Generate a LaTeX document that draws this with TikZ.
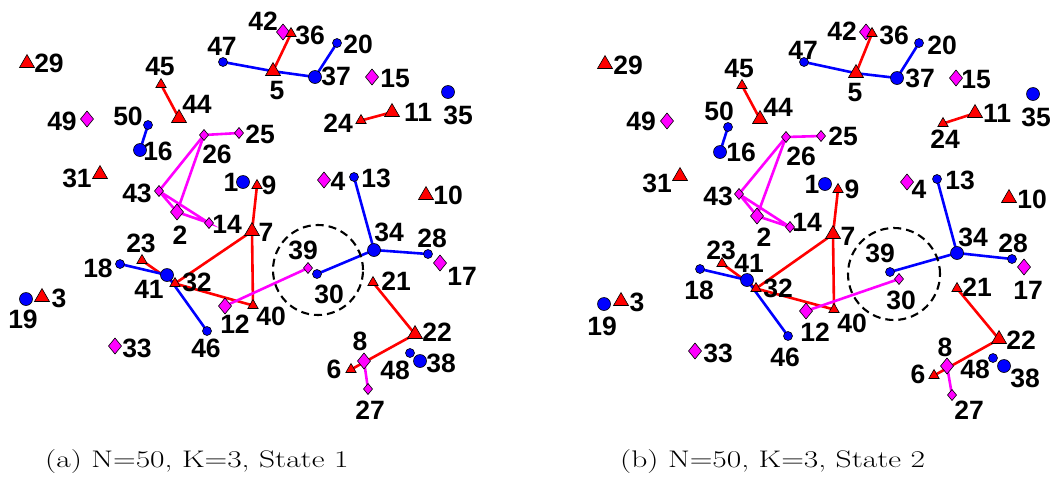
\documentclass[tikz,border=0pt]{standalone}
\usepackage{fontspec}
\newfontfamily\labfont{Liberation Sans}
\usetikzlibrary{shapes.geometric,backgrounds}
\definecolor{pmag}{RGB}{255,0,255}
\definecolor{pred}{RGB}{255,0,0}
\definecolor{pblue}{RGB}{0,0,255}
\newcommand\mk[7]{\node[#2] (#1) at (#3,#4) {}; \node[lab] (l#1) at (#5,#6) {#7};}
\begin{document}
\begin{tikzpicture}[x=1pt,y=-1pt,
 mkr/.style={draw=black,line width=0.6pt,inner sep=0pt,outer sep=0pt},
 BC/.style={mkr,circle,fill=pblue,minimum size=13pt},
 SC/.style={mkr,circle,fill=pblue,minimum size=9pt},
 BT/.style={mkr,regular polygon,regular polygon sides=3,fill=pred,minimum size=17.3pt,yshift=-2.2pt},
 ST/.style={mkr,regular polygon,regular polygon sides=3,fill=pred,minimum size=12pt,yshift=-1.5pt},
 BD/.style={mkr,diamond,fill=pmag,minimum width=13pt,minimum height=16pt},
 SD/.style={mkr,diamond,fill=pmag,minimum width=9pt,minimum height=11pt},
 lab/.style={font=\labfont\bfseries\fontsize{26.5}{26.5}\selectfont,inner sep=0pt},
 er/.style={pred,line width=2.6pt},
 eb/.style={pblue,line width=2.6pt},
 em/.style={pmag,line width=2.6pt},
 ring/.style={draw=black,circle,line width=2.1pt,dash pattern=on 8pt off 5pt,inner sep=0pt},
 captxt/.style={font=\fontsize{24}{28}\selectfont,inner sep=0pt,anchor=base west}]
\useasboundingbox (0,0) rectangle (1056,477);

% ---------- panel (a) ----------
\node[ring,minimum size=90pt] (ringa) at (318,270) {};
% diamonds
\mk{a2}{BD}{177}{212}{180}{235}{2}
\mk{a4}{BD}{324}{180}{338}{181}{4}
\mk{a8}{BD}{364}{361}{360}{341}{8}
\mk{a12}{BD}{225}{306}{235}{324}{12}
\mk{a14}{SD}{209}{223}{227}{224}{14}
\mk{a15}{BD}{372}{77}{395}{79}{15}
\mk{a17}{BD}{440}{263}{462}{276}{17}
\mk{a25}{SD}{239}{133}{260}{134}{25}
\mk{a26}{SD}{204}{135}{217}{154}{26}
\mk{a27}{SD}{368}{389}{370}{410}{27}
\mk{a33}{BD}{115}{346}{137}{348}{33}
\mk{a39}{SD}{308}{268}{303}{250}{39}
\mk{a42}{BD}{283}{32}{263}{21}{42}
\mk{a43}{SD}{159}{191}{137}{193}{43}
\mk{a49}{BD}{87}{119}{62}{121}{49}
% circles
\mk{a1}{BC}{243}{182}{231}{182}{1}
\mk{a13}{SC}{354}{177}{376}{178}{13}
\mk{a16}{BC}{140}{150}{158}{151}{16}
\mk{a18}{SC}{120}{264}{98}{268}{18}
\mk{a19}{BC}{26}{299}{23}{319}{19}
\mk{a20}{SC}{337}{43}{358}{44}{20}
\mk{a28}{SC}{428}{254}{432}{238}{28}
\mk{a30}{SC}{317}{274}{329}{294}{30}
\mk{a34}{BC}{374}{250}{389}{232}{34}
\mk{a35}{BC}{448}{92}{458}{115}{35}
\mk{a37}{BC}{315}{77}{336}{76}{37}
\mk{a41}{BC}{167}{275}{149}{289}{41}
\mk{a46}{SC}{207}{331}{206}{348}{46}
\mk{a47}{SC}{223}{62}{222}{46}{47}
\mk{a48}{SC}{410}{353}{395}{370}{48}
\mk{a38}{BC}{420}{361}{441}{363}{38}
\mk{a50}{SC}{148}{125}{128}{116}{50}
% triangles
\mk{a3}{BT}{42}{295}{59}{298}{3}
\mk{a5}{BT}{273}{69}{277}{91}{5}
\mk{a6}{ST}{351}{368}{334}{369}{6}
\mk{a7}{BT}{252}{229}{266}{232}{7}
\mk{a9}{ST}{257}{184}{269}{185}{9}
\mk{a10}{BT}{426}{193}{448}{195}{10}
\mk{a11}{BT}{392}{110}{418}{112}{11}
\mk{a21}{ST}{373}{281}{396}{281}{21}
\mk{a22}{BT}{415}{332}{437}{332}{22}
\mk{a23}{ST}{142}{259}{141}{243}{23}
\mk{a24}{ST}{361}{119}{338}{123}{24}
\mk{a29}{BT}{27}{61}{49}{63}{29}
\mk{a31}{BT}{100}{172}{77}{178}{31}
\mk{a32}{ST}{175}{282}{197}{282}{32}
\mk{a36}{ST}{291}{32}{310}{35}{36}
\mk{a40}{ST}{253}{304}{271}{316}{40}
\mk{a44}{BT}{179}{116}{197}{104}{44}
\mk{a45}{ST}{161}{83}{160}{67}{45}

% ---------- panel (b) ----------
\node[ring,minimum size=92pt] (ringb) at (894,274) {};
% diamonds
\mk{b2}{BD}{757}{216}{764}{237}{2}
\mk{b4}{BD}{907}{182}{919}{189}{4}
\mk{b8}{BD}{947}{366}{945}{347}{8}
\mk{b12}{BD}{806}{311}{815}{332}{12}
\mk{b14}{SD}{790}{227}{807}{222}{14}
\mk{b15}{BD}{956}{78}{976}{80}{15}
\mk{b17}{BD}{1024}{267}{1028}{290}{17}
\mk{b25}{SD}{821}{136}{843}{136}{25}
\mk{b26}{SD}{786}{137}{801}{156}{26}
\mk{b27}{SD}{952}{395}{969}{410}{27}
\mk{b30}{SD}{899}{279}{901}{300}{30}
\mk{b33}{BD}{695}{351}{718}{353}{33}
\mk{b42}{BD}{866}{32}{842}{31}{42}
\mk{b43}{SD}{739}{194}{718}{196}{43}
\mk{b49}{BD}{667}{121}{641}{121}{49}
% circles
\mk{b1}{BC}{825}{184}{812}{184}{1}
\mk{b13}{SC}{937}{179}{960}{180}{13}
\mk{b16}{BC}{720}{152}{741}{152}{16}
\mk{b18}{SC}{700}{269}{699}{290}{18}
\mk{b19}{BC}{604}{304}{602}{326}{19}
\mk{b20}{SC}{919}{43}{942}{45}{20}
\mk{b28}{SC}{1012}{259}{1013}{243}{28}
\mk{b34}{BC}{957}{253}{973}{237}{34}
\mk{b35}{BC}{1033}{94}{1036}{117}{35}
\mk{b37}{BC}{897}{78}{920}{78}{37}
\mk{b39}{SC}{890}{272}{880}{253}{39}
\mk{b41}{BC}{747}{280}{749}{263}{41}
\mk{b46}{SC}{788}{336}{785}{357}{46}
\mk{b47}{SC}{804}{62}{803}{50}{47}
\mk{b48}{SC}{993}{358}{975}{369}{48}
\mk{b38}{BC}{1004}{366}{1025}{378}{38}
\mk{b50}{SC}{728}{127}{719}{111}{50}
% triangles
\mk{b3}{BT}{621}{299}{637}{302}{3}
\mk{b5}{BT}{856}{71}{855}{93}{5}
\mk{b6}{ST}{934}{374}{918}{374}{6}
\mk{b7}{BT}{833}{232}{848}{236}{7}
\mk{b9}{ST}{838}{188}{852}{189}{9}
\mk{b10}{BT}{1009}{196}{1032}{199}{10}
\mk{b11}{BT}{975}{111}{997}{113}{11}
\mk{b21}{ST}{957}{287}{977}{287}{21}
\mk{b22}{BT}{999}{337}{1021}{340}{22}
\mk{b23}{ST}{722}{262}{721}{250}{23}
\mk{b24}{ST}{943}{122}{945}{139}{24}
\mk{b29}{BT}{605}{62}{628}{65}{29}
\mk{b31}{BT}{680}{174}{657}{183}{31}
\mk{b32}{ST}{756}{287}{778}{288}{32}
\mk{b36}{ST}{872}{32}{894}{35}{36}
\mk{b40}{ST}{834}{308}{852}{323}{40}
\mk{b44}{BT}{760}{117}{778}{107}{44}
\mk{b45}{ST}{742}{84}{739}{69}{45}

% ---------- connectors ----------
\begin{pgfonlayer}{background}
\foreach \p in {a,b}{
 \draw[eb] (\p47.center) -- (\p5.center) -- (\p37.center) -- (\p20.center);
 \draw[er] (\p5.center) -- (\p36.center);
 \draw[er] (\p45.center) -- (\p44.center);
 \draw[eb] (\p50.center) -- (\p16.center);
 \draw[er] (\p24.center) -- (\p11.center);
 \draw[em] (\p25.center) -- (\p26.center) -- (\p43.center) -- (\p14.center) -- (\p2.center) -- (\p43.center);
 \draw[em] (\p26.center) -- (\p2.center);
 \draw[er] (\p9.center) -- (\p7.center) -- (\p32.center) -- (\p40.center) -- (\p7.center);
 \draw[er] (\p23.center) -- (\p32.center);
 \draw[eb] (\p18.center) -- (\p41.center) -- (\p46.center);
 \draw[eb] (\p13.center) -- (\p34.center) -- (\p28.center);
 \draw[er] (\p21.center) -- (\p22.center) -- (\p6.center);
 \draw[em] (\p8.center) -- (\p27.center);
}
\draw[em] (a12.center) -- (a39.center);
\draw[eb] (a30.center) -- (a34.center);
\draw[em] (b12.center) -- (b30.center);
\draw[eb] (b39.center) -- (b34.center);
\end{pgfonlayer}

% ---------- captions ----------
\node[captxt] (capa) at (45,467) {\scalebox{1.31}[1]{(a) N=50, K=3, State 1}};
\node[captxt] (capb) at (620,467) {\scalebox{1.31}[1]{(b) N=50, K=3, State 2}};
\end{tikzpicture}
\end{document}
